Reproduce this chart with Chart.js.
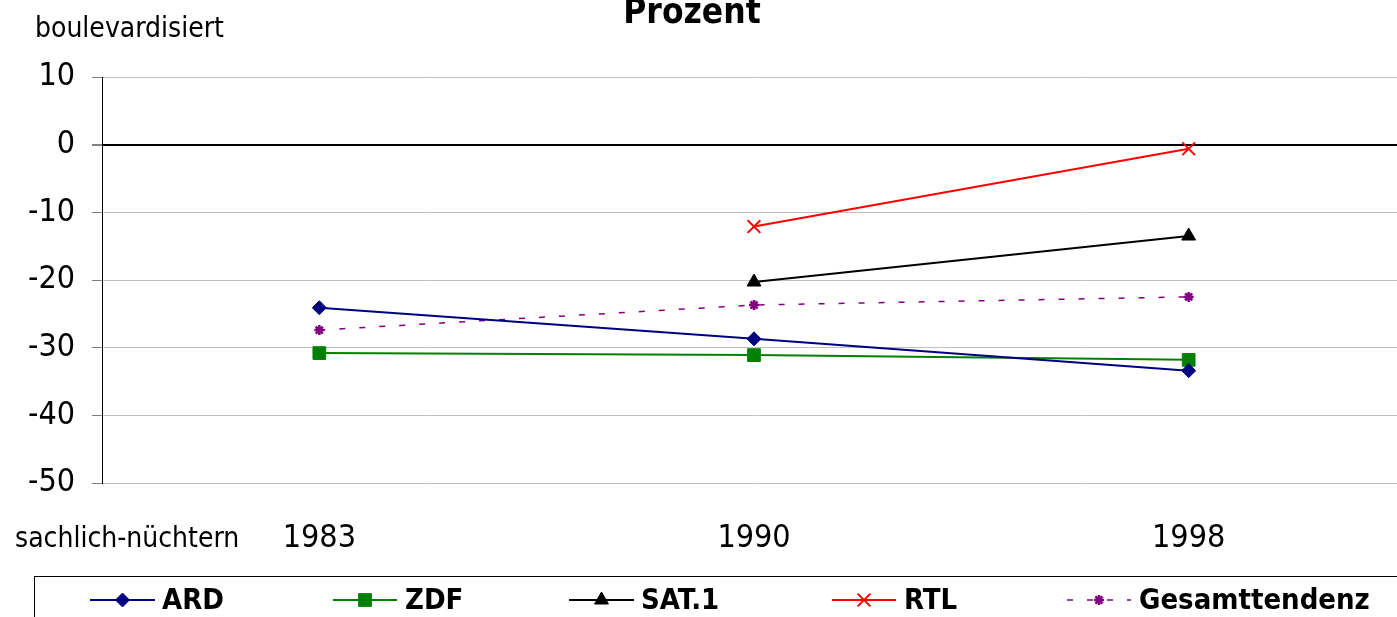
<!DOCTYPE html>
<html>
<head>
<meta charset="utf-8">
<script src="https://cdn.jsdelivr.net/npm/chart.js@4.4.1/dist/chart.umd.min.js"></script>
<style>
  html, body { margin: 0; padding: 0; background: #fff; overflow: hidden; }
  #wrap { width: 1397px; height: 617px; overflow: hidden; position: relative; }
  #lineChart { display: block; }
</style>
</head>
<body>
<div id="wrap"><canvas id="lineChart" width="1420" height="617"></canvas></div>
<script>
// values (percent)
const years = ["1983", "1990", "1998"];
const ard = [-24.1, -28.7, -33.4];
const zdf = [-30.8, -31.1, -31.8];
const sat1 = [null, -20.3, -13.5];
const rtl = [null, -12.1, -0.6];
const gesamt = [-27.4, -23.7, -22.5];

const FONT = "'DejaVu Sans Condensed', 'DejaVu Sans', sans-serif";

// legend positions: line start, line end, text x
const legendSlots = [
  [90, 155, 162],
  [333, 397, 405],
  [569, 634, 641],
  [832, 896, 904],
  [1067, 1131, 1139],
];

const extraText = {
  id: "extraText",
  afterDraw(chart) {
    const ctx = chart.ctx;
    ctx.save();
    ctx.fillStyle = "#000";
    ctx.textBaseline = "alphabetic";
    ctx.textAlign = "center";
    ctx.font = "bold 35px " + FONT;
    ctx.fillText("Prozent", 692, 23);
    ctx.textAlign = "left";
    ctx.font = "28px " + FONT;
    ctx.fillText("boulevardisiert", 35, 37);
    ctx.fillText("sachlich-nüchtern", 15, 547);

    // legend box
    ctx.strokeStyle = "#000";
    ctx.lineWidth = 1;
    ctx.strokeRect(34.5, 576.5, 1500, 100);

    const y = 600;
    chart.data.datasets.forEach(function (ds, i) {
      const s = legendSlots[i];
      ctx.save();
      ctx.strokeStyle = ds.borderColor;
      ctx.lineWidth = ds.borderWidth;
      ctx.setLineDash(ds.borderDash || []);
      ctx.beginPath();
      ctx.moveTo(s[0], y);
      ctx.lineTo(s[1], y);
      ctx.stroke();
      ctx.restore();
      ctx.save();
      ctx.fillStyle = ds.pointBackgroundColor;
      ctx.strokeStyle = ds.pointBorderColor;
      ctx.lineWidth = ds.pointBorderWidth;
      Chart.helpers.drawPoint(ctx, {
        pointStyle: ds.pointStyle,
        radius: ds.pointRadius,
        rotation: 0,
        borderWidth: ds.pointBorderWidth,
      }, (s[0] + s[1]) / 2, y);
      ctx.restore();
      ctx.fillStyle = "#000";
      ctx.font = "bold 29px " + FONT;
      ctx.textBaseline = "middle";
      ctx.fillText(ds.label, s[2], y + 1);
    });
    ctx.restore();
  },
};

function series(label, data, color, style, radius, extra) {
  return Object.assign({
    label: label,
    data: data,
    borderColor: color,
    backgroundColor: color,
    borderWidth: 2,
    pointStyle: style,
    pointRadius: radius,
    pointHoverRadius: radius,
    pointBackgroundColor: color,
    pointBorderColor: color,
    pointBorderWidth: 1,
    tension: 0,
  }, extra || {});
}

const el = document.getElementById("lineChart");
const chart = new Chart(el, {
  type: "line",
  data: {
    labels: years,
    datasets: [
      series("ARD", ard, "#000080", "rectRot", 7),
      series("ZDF", zdf, "#008000", "rect", 9),
      series("SAT.1", sat1, "#000000", "triangle", 8),
      series("RTL", rtl, "#ff0000", "crossRot", 9, { pointBorderWidth: 2 }),
      series("Gesamttendenz", gesamt, "#800080", "star", 5, {
        borderWidth: 1.5,
        borderDash: [6, 14],
        pointBorderWidth: 2.5,
      }),
    ],
  },
  options: {
    responsive: false,
    animation: false,
    layout: { padding: { top: 77, left: 0, right: 14, bottom: 0 } },
    plugins: {
      legend: { display: false },
      title: { display: false },
      tooltip: { enabled: false },
    },
    scales: {
      x: {
        type: "category",
        offset: true,
        grid: { display: false, drawTicks: false },
        border: { display: false },
        ticks: { color: "#000", font: { family: FONT, size: 32 }, padding: 36 },
        afterFit: function (scale) { scale.height = 134; },
      },
      y: {
        min: -50,
        max: 10,
        ticks: { stepSize: 10, color: "#000", font: { family: FONT, size: 32 }, padding: 17 },
        grid: {
          color: function (c) { return c.tick && c.tick.value === 0 ? "#000" : "#c0c0c0"; },
          lineWidth: function (c) { return c.tick && c.tick.value === 0 ? 2 : 1; },
          tickColor: "#808080",
          tickLength: 10,
        },
        border: { display: true, color: "#000", width: 1 },
        afterFit: function (scale) { scale.width = 102; },
      },
    },
  },
  plugins: [extraText],
});
</script>
</body>
</html>
